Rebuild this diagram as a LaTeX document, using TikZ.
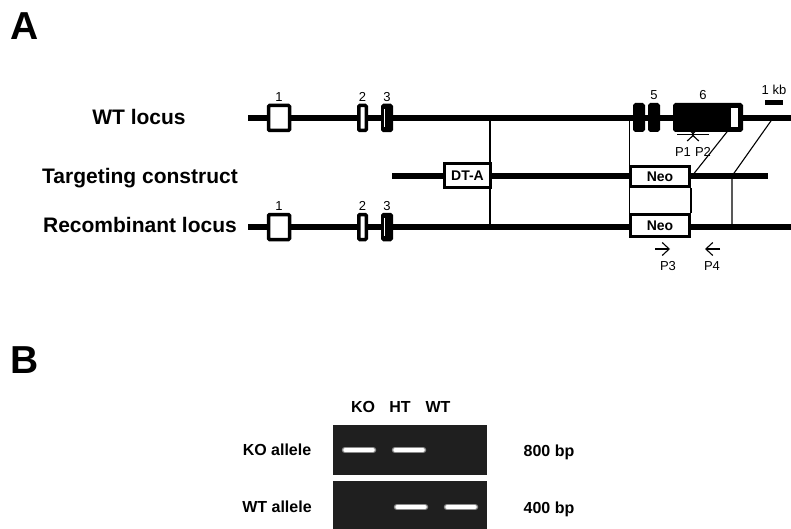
\documentclass[tikz,border=0pt]{standalone}
\usepackage{fontspec}
\setmainfont{Liberation Sans}
\usetikzlibrary{arrows.meta}

\begin{document}
\begin{tikzpicture}[x=1pt, y=-1pt,
    locus/.style={line width=5.5pt},
    link/.style={line width=1.1pt},
    exon/.style={draw, line width=3.5pt, fill=white, rounded corners=1pt, inner sep=0pt, minimum height=25pt},
    darkexon/.style={exon, fill=black},
    cassette/.style={draw, line width=3pt, fill=white, inner sep=0pt, font=\fontsize{14}{16}\selectfont\bfseries},
    num/.style={anchor=base, inner sep=0pt, font=\fontsize{13}{15}\selectfont},
    rowlab/.style={anchor=base, inner sep=0pt, font=\fontsize{21}{25}\selectfont\bfseries},
    gellab/.style={anchor=base, inner sep=0pt, font=\fontsize{16}{19}\selectfont\bfseries},
    panel/.style={anchor=base, inner sep=0pt, font=\fontsize{39}{44}\selectfont\bfseries},
    primer/.style={line width=1.1pt, -{Straight Barb[length=7pt,width=13pt]}},
    band/.style={line width=3.5pt, white, line cap=round, preaction={draw=white!55!black, line width=6.5pt, line cap=round}}
  ]
  \useasboundingbox (0,0) rectangle (791,529);

  % ---------------- Panel A ----------------
  \node[panel] (lblA) at (25,40) {A};

  \node[rowlab] (wtlab) at (139,125) {WT locus};
  \node[rowlab] (tclab) at (140,184) {Targeting construct};
  \node[rowlab] (rclab) at (140,233) {Recombinant locus};

  % the three loci
  \draw[locus] (248,118) -- (791,118);
  \draw[locus] (392,176) -- (768,176);
  \draw[locus] (248,227) -- (791,227);

  % homology links (boxes are drawn over them)
  \coordinate (wtArmL) at (490,118);
  \coordinate (rcArmL) at (490,227);
  \coordinate (wtNeoL) at (629.5,118);
  \coordinate (rcNeoL) at (629.5,227);
  \coordinate (wtArmR) at (738,118);
  \coordinate (tcArmR) at (692,176);
  \coordinate (wtEnd) at (773,118);
  \coordinate (tcEnd) at (732,176);
  \coordinate (rcEnd) at (732,227);
  \draw[link] (wtArmL) -- (rcArmL);
  \draw[link] (wtNeoL) -- (rcNeoL);
  \draw[link] (wtArmR) -- (tcArmR);
  \draw[link] (wtEnd) -- (tcEnd) -- (rcEnd);

  % primers P1/P2 (partly hidden by exon 6)
  \coordinate (p1s) at (677,134.5);
  \coordinate (p1e) at (695,134.5);
  \coordinate (p2s) at (709,134.5);
  \coordinate (p2e) at (691,134.5);
  \draw[primer] (p1s) -- (p1e);
  \draw[primer] (p2s) -- (p2e);

  % exons 1-3, same on both loci
  \foreach \row/\y in {wt/118, rc/227}{
    \node[exon, minimum width=21pt] (\row1) at (279,\y) {};
    \node[exon, minimum width=7.5pt] (\row2) at (362.5,\y) {};
    \node[darkexon, minimum width=8.5pt] (\row3) at (387,\y) {};
    \draw[white, line width=0.9pt] (384.5,\y-9) -- (384.5,\y+9);
    \node[num] (\row n1) at (279,\y-16.5) {1};
    \node[num] (\row n2) at (362.5,\y-16.5) {2};
    \node[num] (\row n3) at (387,\y-16.5) {3};
  }

  % exons 4-6 of the WT locus
  \node[darkexon, minimum width=8.5pt, minimum height=25.5pt] (wt4) at (639,117.5) {};
  \node[darkexon, minimum width=8.5pt, minimum height=25.5pt] (wt5) at (654,117.5) {};
  \node[darkexon, minimum width=66.5pt, minimum height=25.5pt] (wt6) at (708,117.5) {};
  \fill[white] (731,108) rectangle (738,127);
  \node[num] (wtn5) at (654,100) {5};
  \node[num] (wtn6) at (703,100) {6};

  % scale bar
  \draw[line width=5pt] (765,103) -- (783,103);
  \node[num] (kb) at (774,95) {1 kb};

  % cassettes
  \node[cassette, minimum width=46pt, minimum height=24pt] (dta) at (467.5,175.5) {DT-A};
  \node[cassette, minimum width=59pt, minimum height=20pt] (neoT) at (660,177) {Neo};
  \node[cassette, minimum width=59pt, minimum height=22pt] (neoR) at (660,225.5) {Neo};
  \draw[link] (neoT.south east) -- (neoR.north east);

  % primers P3/P4
  \coordinate (p3s) at (655,249);
  \coordinate (p3e) at (670,249);
  \coordinate (p4s) at (720,249);
  \coordinate (p4e) at (705,249);
  \draw[primer] (p3s) -- (p3e);
  \draw[primer] (p4s) -- (p4e);

  \node[num] (P1) at (683,157) {P1};
  \node[num] (P2) at (703,157) {P2};
  \node[num] (P3) at (668,270) {P3};
  \node[num] (P4) at (712,270) {P4};

  % ---------------- Panel B ----------------
  \node[panel] (lblB) at (25,373) {B};

  \node[gellab] (laneKO) at (363,412) {KO};
  \node[gellab] (laneHT) at (400,412) {HT};
  \node[gellab] (laneWT) at (438,412) {WT};

  \node[gellab] (koAllele) at (277,455) {KO allele};
  \node[gellab] (wtAllele) at (277,512) {WT allele};
  \node[gellab] (bp800) at (549,456) {800 bp};
  \node[gellab] (bp400) at (549,513) {400 bp};

  % gels
  \fill[black!88] (333,425) rectangle (487,475);
  \fill[black!88] (333,481) rectangle (487,529);

  \draw[band] (345,450) -- (373,450);
  \draw[band] (395,450) -- (423,450);
  \draw[band] (397,507) -- (425,507);
  \draw[band] (447,507) -- (475,507);

\end{tikzpicture}
\end{document}
